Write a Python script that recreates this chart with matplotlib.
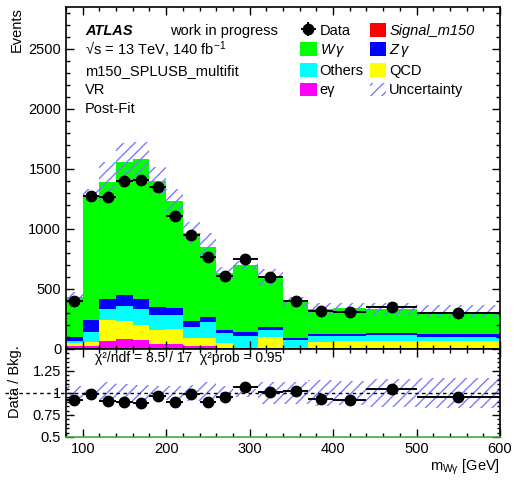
import matplotlib
matplotlib.use('Agg')
import matplotlib.pyplot as plt
import numpy as np
from matplotlib.patches import Patch
from matplotlib.ticker import MultipleLocator, FixedLocator, FuncFormatter

plt.rcParams['font.family'] = ['Liberation Sans', 'DejaVu Sans']
plt.rcParams['mathtext.fontset'] = 'custom'
plt.rcParams['mathtext.rm'] = 'Liberation Sans'
plt.rcParams['mathtext.it'] = 'Liberation Sans:italic'
plt.rcParams['mathtext.bf'] = 'Liberation Sans:bold'
plt.rcParams['hatch.linewidth'] = 1.0

# ---------------- data ----------------
bin_edges = [80, 100, 120, 140, 160, 180, 200, 220, 240, 260, 280, 310, 340, 370, 400, 440, 500, 600]
data = [403, 1272, 1268, 1397, 1411, 1353, 1108, 953, 769, 608, 750, 597, 400, 315, 311, 350, 298]
egamma = [25, 28, 69, 86, 75, 42, 39, 25, 25, 12, 8, 10, 10, 10, 12, 12, 12]
qcd = [22, 33, 173, 150, 125, 116, 128, 67, 64, 42, 0, 87, 0, 51, 55, 57, 52]
others = [22, 78, 89, 125, 136, 125, 119, 94, 136, 77, 100, 61, 65, 47, 44, 45, 39]
zgamma = [28, 103, 86, 89, 83, 64, 56, 50, 39, 31, 31, 28, 19, 14, 14, 17, 19]
wgamma = [339, 1040, 973, 1110, 1166, 1056, 888, 727, 590, 473, 563, 406, 296, 214, 213, 202, 190]
signal = [0, 0, 0, 0, 0, 0, 0, 0, 0, 0, 0, 0, 0, 0, 0, 0, 0]
unc_rel = [0.08, 0.04, 0.12, 0.10, 0.09, 0.08, 0.085, 0.095, 0.13, 0.08, 0.05, 0.12, 0.12, 0.15, 0.14, 0.16, 0.17]

stack_names = ['eγ', 'QCD', 'Others', r'$Z\,\gamma$', r'$W\,\gamma$', 'Signal_m150']
stack_colors = ['#ff00ff', '#ffff00', '#00ffff', '#0000ff', '#00ff00', '#ff0000']
stack_values = [egamma, qcd, others, zgamma, wgamma, signal]

chi2_text = 'χ²/ndf = 8.5 / 17  χ²prob = 0.95'

# ---------------- figure ----------------
W, H = 514, 482
fig = plt.figure(figsize=(W / 100, H / 100), dpi=100)
L, R = 66 / W, 500 / W
ax = fig.add_axes([L, 1 - 349 / H, R - L, (349 - 7) / H])
axr = fig.add_axes([L, 1 - 437 / H, R - L, (437 - 349) / H], sharex=ax)

edges = np.array(bin_edges, dtype=float)
left = edges[:-1]
width = np.diff(edges)
centers = 0.5 * (edges[:-1] + edges[1:])
hw = 0.5 * width

bottom = np.zeros(len(left))
for vals, col in zip(stack_values, stack_colors):
    v = np.array(vals, dtype=float)
    ax.bar(left, v, width=width, bottom=bottom, align='edge', color=col, linewidth=0)
    bottom = bottom + v
total = bottom
unc = total * np.array(unc_rel)

hatch_col = '#7b7bff'
ax.bar(left, 2 * unc, width=width, bottom=total - unc, align='edge', fill=False,
       hatch='///', edgecolor=hatch_col, linewidth=0)

d = np.array(data, dtype=float)
derr = np.sqrt(d)
eb = ax.errorbar(centers, d, xerr=hw, yerr=derr, fmt='o', color='black', ms=7.5,
                 elinewidth=1.4, capsize=0)

ax.set_xlim(80, 600)
ax.set_ylim(0, 2850)

# ratio
ratio = d / total
rerr = derr / total
rel = np.array(unc_rel)
axr.bar(left, 2 * rel, width=width, bottom=1 - rel, align='edge', fill=False,
        hatch='///', edgecolor=hatch_col, linewidth=0)
axr.plot([-0.14, 1.0], [1, 1], transform=axr.get_yaxis_transform(), ls=(0, (2.5, 2.5)),
         color='black', lw=1.0, clip_on=False, zorder=1)
axr.errorbar(centers, ratio, xerr=hw, yerr=rerr, fmt='o', color='black', ms=7.5,
             elinewidth=1.4, capsize=0)
axr.set_ylim(0.5, 1.5)
axr.spines['bottom'].set_color('#3fae3f')

# ticks
for a in (ax, axr):
    a.tick_params(which='both', direction='in', top=True, right=True, labelsize=10.5)
    a.tick_params(which='major', length=6, width=1)
    a.tick_params(which='minor', length=3, width=1)
    for s in a.spines.values():
        s.set_linewidth(1.2)
ax.xaxis.set_major_locator(MultipleLocator(100))
ax.xaxis.set_minor_locator(MultipleLocator(20))
ax.yaxis.set_major_locator(MultipleLocator(500))
ax.yaxis.set_minor_locator(MultipleLocator(100))
ax.tick_params(labelbottom=False)
axr.yaxis.set_major_locator(FixedLocator([0.5, 0.75, 1.0, 1.25, 1.5]))
axr.yaxis.set_major_formatter(FuncFormatter(lambda v, p: '' if v > 1.4 else '%g' % v))
axr.yaxis.set_minor_locator(MultipleLocator(0.05))
axr.tick_params(axis='y', which='minor', length=2)

# labels
fs = 10.5
fig.text(17 / W, 1 - 7 / H, 'Events', rotation=90, ha='center', va='top', fontsize=fs)
fig.text(15 / W, 1 - 382 / H, 'Data / Bkg.', rotation=90, ha='center', va='center', fontsize=fs)
fig.text(500 / W, 1 - 467 / H, r'm$_{\mathregular{W\gamma}}$ [GeV]', ha='right', va='center', fontsize=fs)
fig.text(95 / W, 1 - 358 / H, chi2_text, ha='left', va='center', fontsize=10)

fig.text(85 / W, 1 - 31 / H, 'ATLAS', ha='left', va='center', fontsize=fs,
         fontweight='bold', fontstyle='italic')
fig.text(170 / W, 1 - 31 / H, 'work in progress', ha='left', va='center', fontsize=fs)
fig.text(85 / W, 1 - 50 / H, r'√s = 13 TeV, 140 fb$^{\mathregular{-1}}$', ha='left', va='center', fontsize=fs)
fig.text(85 / W, 1 - 71 / H, 'm150_SPLUSB_multifit', ha='left', va='center', fontsize=fs)
fig.text(85 / W, 1 - 90 / H, 'VR', ha='left', va='center', fontsize=fs)
fig.text(85 / W, 1 - 109 / H, 'Post-Fit', ha='left', va='center', fontsize=fs)

# legend (column-wise order)
h_unc = Patch(facecolor='none', edgecolor=hatch_col, hatch='///', linewidth=0)
h = {n: Patch(facecolor=c, edgecolor='none') for n, c in zip(stack_names, stack_colors)}
handles = [eb, h[r'$W\,\gamma$'], h['Others'], h['eγ'],
           h['Signal_m150'], h[r'$Z\,\gamma$'], h['QCD'], h_unc]
labels = ['Data', r'$W\,\gamma$', 'Others', 'eγ',
          'Signal_m150', r'$Z\,\gamma$', 'QCD', 'Uncertainty']
leg = fig.legend(handles, labels, loc='upper left', bbox_to_anchor=(300 / W, 1 - 23 / H),
                 ncol=2, frameon=False, fontsize=fs, handlelength=1.15, handleheight=1.05,
                 handletextpad=0.2, columnspacing=0.4, labelspacing=0.3, borderpad=0,
                 borderaxespad=0)
leg.get_texts()[4].set_fontstyle('italic')

fig.savefig('out.png', dpi=100)
